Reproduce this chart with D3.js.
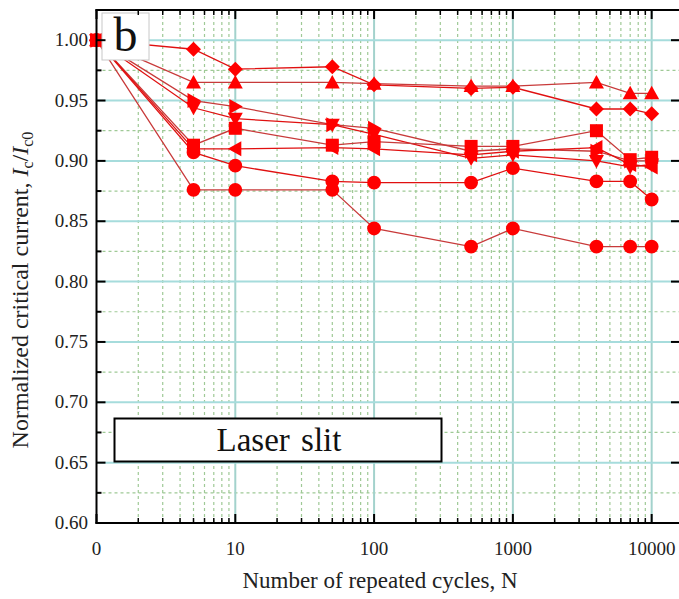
<!DOCTYPE html>
<html><head><meta charset="utf-8">
<script src="https://cdn.jsdelivr.net/npm/d3@7"></script>
<style>body{margin:0;background:#fff}svg{display:block}</style>
</head><body>
<svg id="c" width="679" height="599"></svg>
<script>
// N = 0 is drawn at position 1 on the log axis (labelled "0")
const cycles = [1, 5, 10, 50, 100, 500, 1000, 4000, 7000, 10000];
const seriesDiamond  = [1.000, 0.9925, 0.976, 0.978, 0.963, 0.960, 0.961, 0.943, 0.943, 0.939];
const seriesTriUp    = [1.000, 0.965, 0.965, 0.965, 0.964, 0.962, 0.962, 0.965, 0.956, 0.956];
const seriesTriRight = [1.000, 0.950, 0.945, 0.930, 0.927, 0.908, 0.910, 0.908, 0.900, 0.900];
const seriesTriDown  = [1.000, 0.944, 0.935, 0.930, 0.922, 0.902, 0.905, 0.900, 0.895, 0.897];
const seriesSquare   = [1.000, 0.913, 0.927, 0.913, 0.916, 0.912, 0.912, 0.925, 0.901, 0.903];
const seriesTriLeft  = [1.000, 0.910, 0.910, 0.911, 0.910, 0.905, 0.908, 0.911, 0.897, 0.895];
const seriesCircleA  = [1.000, 0.907, 0.896, 0.883, 0.882, 0.882, 0.894, 0.883, 0.883, 0.868];
const seriesCircleB  = [1.000, 0.876, 0.876, 0.876, 0.844, 0.829, 0.844, 0.829, 0.829, 0.829];
const xTickValues = [1, 10, 100, 1000, 10000];
const xTickLabels = ["0", "10", "100", "1000", "10000"];
const yTickValues = [0.60, 0.65, 0.70, 0.75, 0.80, 0.85, 0.90, 0.95, 1.00];
const yMinorValues = [0.625, 0.675, 0.725, 0.775, 0.825, 0.875, 0.925, 0.975, 1.025];

const series = [
  {shape: "triUp", values: seriesTriUp, stroke: "#c83a3a"},
  {shape: "diamond", values: seriesDiamond, stroke: "#e01010"},
  {shape: "triRight", values: seriesTriRight, stroke: "#c83a3a"},
  {shape: "triDown", values: seriesTriDown, stroke: "#e01010"},
  {shape: "square", values: seriesSquare, stroke: "#c83a3a"},
  {shape: "triLeft", values: seriesTriLeft, stroke: "#e01010"},
  {shape: "circle", values: seriesCircleA, stroke: "#e01010"},
  {shape: "circle", values: seriesCircleB, stroke: "#c83a3a"}
];

const FONT = "Liberation Serif";
const L = 96.5, R = 680, T = 10, B = 523;
const x = d3.scaleLog().domain([1, 16000]).range([L, R]);
const y = d3.scaleLinear().domain([0.6, 1.025]).range([B, T]);
const svg = d3.select("#c");

// minor x values
const xMinor = [];
for (let p = 0; p <= 4; p++) for (let k = 2; k <= 9; k++) { const v = k * Math.pow(10, p); if (v < 16000) xMinor.push(v); }

const grid = svg.append("g");
grid.selectAll(".vm").data(xMinor).join("line")
  .attr("x1", d => x(d)).attr("x2", d => x(d)).attr("y1", T).attr("y2", B)
  .attr("stroke", "#9fc996").attr("stroke-width", 1.2).attr("stroke-dasharray", "3,3");
grid.selectAll(".hm").data(yMinorValues.filter(v => v < 1.02)).join("line")
  .attr("x1", L).attr("x2", R).attr("y1", d => y(d)).attr("y2", d => y(d))
  .attr("stroke", "#9fc996").attr("stroke-width", 1.2).attr("stroke-dasharray", "3,3");
grid.selectAll(".vM").data(xTickValues.slice(1)).join("line")
  .attr("x1", d => x(d)).attr("x2", d => x(d)).attr("y1", T).attr("y2", B)
  .attr("stroke", "#a3d2cc").attr("stroke-width", 2);
grid.selectAll(".hM").data(yTickValues.slice(1)).join("line")
  .attr("x1", L).attr("x2", R).attr("y1", d => y(d)).attr("y2", d => y(d))
  .attr("stroke", "#a6dcdc").attr("stroke-width", 2);

// lines
const line = d3.line().x((d, i) => x(cycles[i])).y(d => y(d));
svg.append("g").selectAll("path").data(series).join("path")
  .attr("d", s => line(s.values)).attr("fill", "none")
  .attr("stroke", s => s.stroke).attr("stroke-width", 1.3);

// markers
function shapePath(shape) {
  const s = 7.5;
  switch (shape) {
    case "circle": return d3.symbol(d3.symbolCircle, 150)();
    case "square": return "M-6.5,-6.5H6.5V6.5H-6.5Z";
    case "diamond": return `M0,${-s}L${s},0L0,${s}L${-s},0Z`;
    case "triUp": return `M0,${-s}L${s},${s*0.8}L${-s},${s*0.8}Z`;
    case "triDown": return `M0,${s}L${s},${-s*0.8}L${-s},${-s*0.8}Z`;
    case "triRight": return `M${s},0L${-s*0.8},${s}L${-s*0.8},${-s}Z`;
    case "triLeft": return `M${-s},0L${s*0.8},${s}L${s*0.8},${-s}Z`;
  }
}
const mk = svg.append("g");
series.forEach(s => {
  mk.selectAll(null).data(s.values).join("path")
    .attr("d", shapePath(s.shape))
    .attr("transform", (d, i) => `translate(${x(cycles[i])},${y(d)})`)
    .attr("fill", "#ff0000");
});

// "b" panel label
svg.append("rect").attr("x", 102).attr("y", 13).attr("width", 47).attr("height", 47)
  .attr("fill", "#fff").attr("stroke", "#c8c8c8").attr("stroke-width", 1);
svg.append("text").attr("x", 125.5).attr("y", 51).attr("text-anchor", "middle")
  .style("font-family", FONT).style("font-size", "48px").attr("fill", "#111").text("b");

// Laser slit box
svg.append("rect").attr("x", 114.5).attr("y", 418.5).attr("width", 327).attr("height", 43)
  .attr("fill", "#fff").attr("stroke", "#000").attr("stroke-width", 2);
svg.append("text").attr("x", 279).attr("y", 451).attr("text-anchor", "middle")
  .style("font-family", FONT).style("font-size", "33px").style("word-spacing", "3px").attr("fill", "#111").text("Laser slit");

// frame
svg.append("line").attr("x1", L).attr("x2", L).attr("y1", T - 1).attr("y2", B + 1).attr("stroke", "#000").attr("stroke-width", 2);
svg.append("line").attr("x1", L - 1).attr("x2", R).attr("y1", B).attr("y2", B).attr("stroke", "#000").attr("stroke-width", 2);
svg.append("line").attr("x1", L - 1).attr("x2", R).attr("y1", T).attr("y2", T).attr("stroke", "#000").attr("stroke-width", 2);
svg.append("line").attr("x1", R).attr("x2", R).attr("y1", T).attr("y2", B).attr("stroke", "#000").attr("stroke-width", 2);

// ticks
const tk = svg.append("g").attr("stroke", "#000").attr("stroke-width", 2);
tk.selectAll(".yl").data(yTickValues).join("line").attr("x1", L).attr("x2", L + 9).attr("y1", d => y(d)).attr("y2", d => y(d));
tk.selectAll(".ylm").data(yMinorValues).join("line").attr("x1", L).attr("x2", L + 5).attr("y1", d => y(d)).attr("y2", d => y(d));
tk.selectAll(".yr").data(yTickValues).join("line").attr("x1", R).attr("x2", R - 9).attr("y1", d => y(d)).attr("y2", d => y(d));
tk.selectAll(".xb").data(xTickValues).join("line").attr("x1", d => x(d)).attr("x2", d => x(d)).attr("y1", B).attr("y2", B - 9);
tk.selectAll(".xbm").data(xMinor).join("line").attr("x1", d => x(d)).attr("x2", d => x(d)).attr("y1", B).attr("y2", B - 5).attr("stroke-width", 1.5);
tk.selectAll(".xt").data(xTickValues).join("line").attr("x1", d => x(d)).attr("x2", d => x(d)).attr("y1", T).attr("y2", T + 9);
tk.selectAll(".xtm").data(xMinor).join("line").attr("x1", d => x(d)).attr("x2", d => x(d)).attr("y1", T).attr("y2", T + 5).attr("stroke-width", 1.5);

// tick labels
svg.append("g").selectAll("text").data(yTickValues).join("text")
  .attr("x", 88).attr("y", d => y(d) + 6).attr("text-anchor", "end")
  .style("font-family", FONT).style("font-size", "19px").attr("fill", "#222")
  .text(d => d3.format(".2f")(d));
svg.append("g").selectAll("text").data(xTickValues).join("text")
  .attr("x", d => x(d)).attr("y", 555).attr("text-anchor", "middle")
  .style("font-family", FONT).style("font-size", "19px").attr("fill", "#222")
  .text((d, i) => xTickLabels[i]);

// axis titles
svg.append("text").attr("x", 380).attr("y", 588).attr("text-anchor", "middle")
  .style("font-family", FONT).style("font-size", "23px").attr("fill", "#222")
  .text("Number of repeated cycles, N");
const yt = svg.append("text").attr("transform", "translate(28,290) rotate(-90)")
  .attr("text-anchor", "middle").style("font-family", FONT).style("font-size", "24px").attr("fill", "#222");
yt.append("tspan").text("Normalized critical current, ");
yt.append("tspan").style("font-style", "italic").text("I");
yt.append("tspan").style("font-size", "16px").attr("dy", 5).text("c");
yt.append("tspan").attr("dy", -5).text("/");
yt.append("tspan").style("font-style", "italic").text("I");
yt.append("tspan").style("font-size", "16px").attr("dy", 5).text("c0");
</script>
</body></html>
